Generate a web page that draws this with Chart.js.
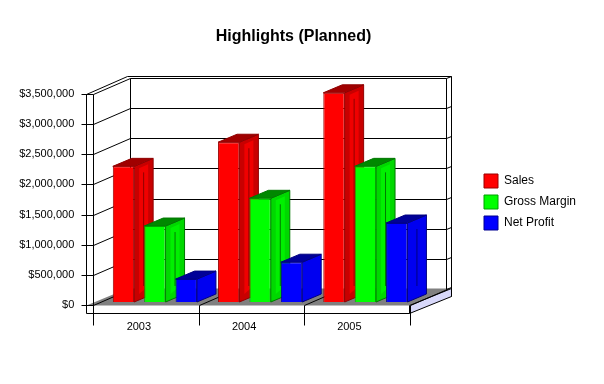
<!DOCTYPE html>
<html>
<head>
<meta charset="utf-8">
<title>Highlights (Planned)</title>
<script src="https://cdn.jsdelivr.net/npm/chart.js@4/dist/chart.umd.min.js"></script>
<style>
    html, body { margin: 0; padding: 0; background: #fff; }
    canvas { display: block; }
</style>
</head>
<body>
<canvas id="highlightsChart" width="604" height="384"></canvas>
<script>
const years = ['2003', '2004', '2005'];
const sales = [2250000, 2650000, 3470000];
const grossMargin = [1260000, 1720000, 2250000];
const netProfit = [380000, 660000, 1310000];
const yMax = 3500000;
const yStep = 500000;

const fontName = '"Liberation Sans", Arial, sans-serif';

// Depth of the box and of each bar
const boxDx = 37, boxDy = -16;
const barDx = 19, barDy = -8;
// Bars stand a little way into the box, so the front plane is shifted from the plot area
const frontDx = -9.25, frontDy = 3;

function line(ctx, x1, y1, x2, y2) {
    ctx.beginPath();
    ctx.moveTo(x1, y1);
    ctx.lineTo(x2, y2);
    ctx.stroke();
}

function poly(ctx, points, fill, stroke) {
    ctx.beginPath();
    points.forEach((p, i) => i ? ctx.lineTo(p[0], p[1]) : ctx.moveTo(p[0], p[1]));
    ctx.closePath();
    ctx.fillStyle = fill;
    ctx.fill();
    if (stroke) {
        ctx.strokeStyle = stroke;
        ctx.lineWidth = 1;
        ctx.stroke();
    }
}

// Side and top of one bar
function drawBarFaces(ctx, bar, shade) {
    const right = bar.x + bar.width / 2;
    const left = bar.x - bar.width / 2;
    poly(ctx, [[right, bar.y], [right + barDx, bar.y + barDy], [right + barDx, bar.base + barDy], [right, bar.base]], shade.side, shade.edge);
    poly(ctx, [[left, bar.y], [left + barDx, bar.y + barDy], [right + barDx, bar.y + barDy], [right, bar.y]], shade.top, shade.edge);
    // lighter middle of the side face
    const inner = 5;
    if (bar.base - bar.y > 40) {
        poly(ctx, [
            [right + inner, bar.y + 2],
            [right + barDx - inner, bar.y + barDy + 6],
            [right + barDx - inner, bar.base + barDy - 8],
            [right + inner, bar.base - 8]
        ], shade.inner);
        ctx.strokeStyle = shade.edge;
        line(ctx, right + barDx / 2, bar.y + barDy / 2 + 10, right + barDx / 2, bar.base + barDy / 2 - 12);
    }
}

// Walls, floor and grid of the box, then the bar sides; the fronts are the chart's own bars
const boxPlugin = {
    id: 'box3d',
    afterLayout(chart) {
        chart.titleBlock.left = 0;
        chart.titleBlock.right = 587;
        const legend = chart.legend;
        legend.left = 477;
        legend.right = 604;
        legend.top += 10;
        legend.bottom += 10;
    },
    beforeDatasetsDraw(chart) {
        const { ctx, chartArea, scales } = chart;
        const fl = Math.round(chartArea.left + frontDx) + 0.5;
        const fr = Math.round(chartArea.right + frontDx) + 0.5;
        const fy = v => Math.round(scales.y.getPixelForValue(v) + frontDy) + 0.5;
        const y0 = fy(0), yTop = fy(yMax);
        const bl = fl + boxDx, br = fr + boxDx;

        ctx.save();
        // floor and its raised edge
        poly(ctx, [[fl - 7, y0], [fr, y0], [br + 5, y0 + boxDy - 1], [bl - 3, y0 + boxDy - 1]], '#808080');
        poly(ctx, [[fr, y0], [br + 5, y0 + boxDy - 1], [br + 5, y0 + boxDy + 7], [fr, y0 + 8]], '#d8d8fa', '#000');

        ctx.strokeStyle = '#000';
        ctx.lineWidth = 1;
        // value grid on the back and left walls
        for (let v = 0; v <= yMax; v += yStep) {
            const y = fy(v);
            if (v > 0) line(ctx, bl, y + boxDy, br, y + boxDy);
            line(ctx, fl - 12, y, fl, y);
            line(ctx, fl, y, bl, y + boxDy);
            line(ctx, br, y + boxDy, br + 5, y + boxDy - 2);
        }
        // wall edges
        line(ctx, bl, yTop + boxDy, bl, y0 + boxDy);
        line(ctx, br, yTop + boxDy, br, y0 + boxDy);
        line(ctx, br + 5, yTop + boxDy - 2, br + 5, y0 + boxDy + 7);
        line(ctx, bl - 3, yTop + boxDy - 2, br + 5, yTop + boxDy - 2);
        line(ctx, fl - 7, yTop, bl - 3, yTop + boxDy - 2);
        line(ctx, fl - 7, yTop, fl - 7, y0 + 8);
        line(ctx, fl, yTop, fl, y0 + 20);
        line(ctx, fl - 7, y0 + 8, fr, y0 + 8);
        // category dividers on the floor and below it
        const catWidth = (fr - fl) / years.length;
        for (let i = 1; i <= years.length; i++) {
            const x = Math.round(fl + catWidth * i) + 0.5;
            line(ctx, x, y0, x + boxDx, y0 + boxDy);
            line(ctx, x, y0, x, y0 + 20);
        }

        // Sales first, so each later series covers the side of the one before it
        chart.data.datasets.forEach((dataset, i) => {
            chart.getDatasetMeta(i).data.forEach(bar => drawBarFaces(ctx, bar, dataset.shade));
        });
        ctx.restore();
    }
};

const ctx = document.getElementById('highlightsChart').getContext('2d');
new Chart(ctx, {
    type: 'bar',
    plugins: [boxPlugin],
    data: {
        labels: years,
        datasets: [
            {
                label: 'Sales',
                data: sales,
                backgroundColor: '#ff0000',
                borderColor: '#9a0000',
                borderWidth: 1,
                shade: { side: '#c80000', top: '#a00000', edge: '#900000', inner: '#f00000' }
            },
            {
                label: 'Gross Margin',
                data: grossMargin,
                backgroundColor: '#00ff00',
                borderColor: '#00a000',
                borderWidth: 1,
                shade: { side: '#00d800', top: '#008800', edge: '#007800', inner: '#00f000' }
            },
            {
                label: 'Net Profit',
                data: netProfit,
                backgroundColor: '#0000ff',
                borderColor: '#000090',
                borderWidth: 1,
                shade: { side: '#0000f0', top: '#000098', edge: '#000080', inner: '#0000f0' }
            }
        ]
    },
    options: {
        responsive: false,
        animation: false,
        categoryPercentage: 0.895,
        barPercentage: 0.68,
        layout: {
            autoPadding: false,
            padding: { right: 77 }
        },
        scales: {
            x: {
                grid: { display: false },
                border: { display: false },
                ticks: {
                    color: '#000',
                    font: { family: fontName, size: 11 },
                    maxRotation: 0,
                    padding: 10,
                    labelOffset: -16
                },
                afterFit: scale => { scale.height = 82; }
            },
            y: {
                min: 0,
                max: yMax,
                grid: { display: false },
                border: { display: false },
                ticks: {
                    stepSize: yStep,
                    color: '#000',
                    font: { family: fontName, size: 11 },
                    padding: 20,
                    labelOffset: 3,
                    callback: value => '$' + value.toLocaleString('en-US')
                },
                afterFit: scale => { scale.width = 102.25; }
            }
        },
        plugins: {
            title: {
                display: true,
                text: 'Highlights (Planned)',
                color: '#000',
                font: { family: fontName, size: 16, weight: 'bold' },
                padding: { top: 27, bottom: 44.8 }
            },
            legend: {
                position: 'right',
                labels: {
                    color: '#000',
                    font: { family: fontName, size: 12 },
                    boxWidth: 14,
                    boxHeight: 14,
                    padding: 7
                }
            },
            tooltip: { enabled: false }
        }
    }
});
</script>
</body>
</html>
